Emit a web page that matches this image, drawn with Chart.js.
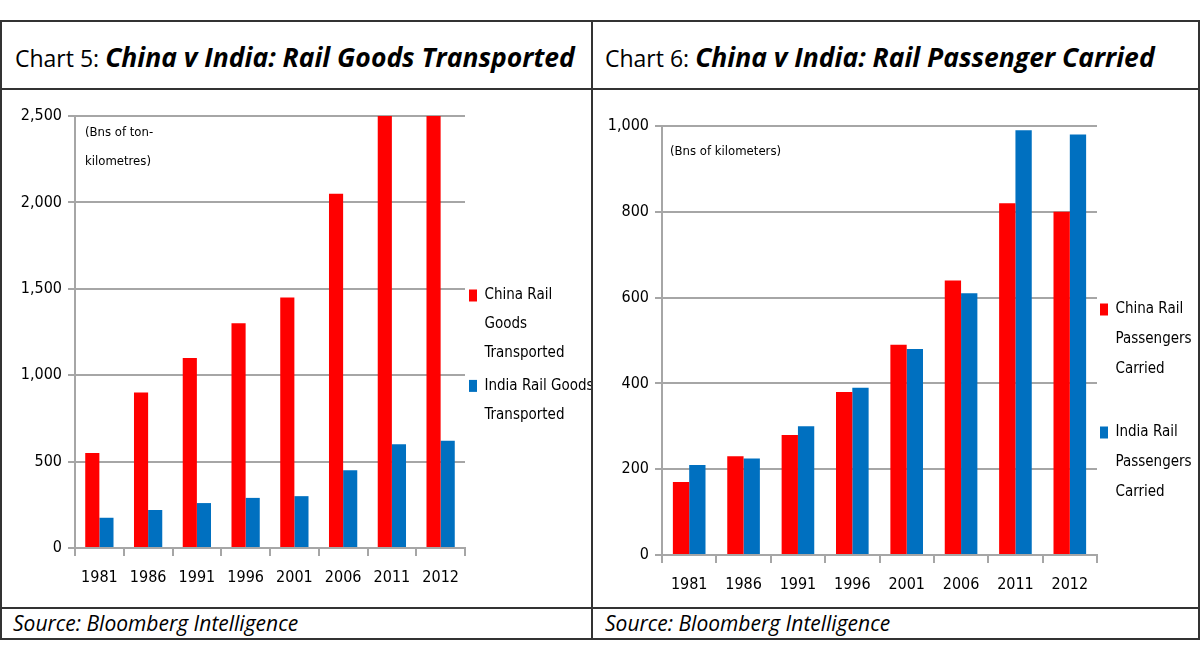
<!DOCTYPE html>
<html lang="en">
<head>
    <meta charset="UTF-8">
    <script src="https://cdn.jsdelivr.net/npm/chart.js"></script>
    <title>China v India Rail</title>
    <style>
        body {
            margin: 0;
            background: #fff;
            width: 1200px;
            height: 656px;
            position: relative;
            overflow: hidden;
        }

        .frame {
            position: absolute;
            left: 0;
            top: 20px;
            width: 1196px;
            height: 616px;
            border: 2px solid #333;
        }

        .hline, .vline {
            position: absolute;
            background: #333;
        }

        .title {
            position: absolute;
            top: 44px;
            line-height: 1;
            font-family: "Open Sans", Lato, sans-serif;
            font-size: 23px;
            color: #000;
            white-space: nowrap;
        }

        .title b {
            font-style: italic;
            font-size: 26.5px;
        }

        .source {
            position: absolute;
            top: 613px;
            line-height: 1;
            font-family: "Open Sans", Lato, sans-serif;
            font-style: italic;
            font-size: 21px;
            color: #000;
            white-space: nowrap;
        }

        .panel {
            position: absolute;
            top: 90px;
            height: 518px;
        }
    </style>
</head>
<body>

    <div class="frame"></div>
    <div class="hline" style="left:0;top:88px;width:1200px;height:2px"></div>
    <div class="hline" style="left:0;top:607px;width:1200px;height:2px"></div>
    <div class="vline" style="left:591px;top:20px;width:2px;height:618px"></div>

    <div class="title" style="left:15px">Chart 5: <b>China v India: Rail Goods Transported</b></div>
    <div class="title" style="left:605px">Chart 6: <b>China v India: Rail Passenger Carried</b></div>

    <div class="panel" style="left:2px;width:589px"><canvas id="goodsChart"></canvas></div>
    <div class="panel" style="left:593px;width:605px"><canvas id="passChart"></canvas></div>

    <div class="source" style="left:13px">Source: Bloomberg Intelligence</div>
    <div class="source" style="left:605px">Source: Bloomberg Intelligence</div>

    <script>
        // years on the x axis (same for both charts)
        const years = ["1981", "1986", "1991", "1996", "2001", "2006", "2011", "2012"];

        // Chart 5 - goods, bns of ton-km
        const chinaGoods = [550, 900, 1100, 1300, 1450, 2050, 2500, 2500];
        const indiaGoods = [175, 220, 260, 290, 300, 450, 600, 620];
        const goodsLegend = [["China Rail", "Goods", "Transported"], ["India Rail Goods", "Transported"]];
        const goodsNote = ["(Bns of ton-", "kilometres)"];

        // Chart 6 - passengers, bns of km
        const chinaPass = [170, 230, 280, 380, 490, 640, 820, 800];
        const indiaPass = [210, 225, 300, 390, 480, 610, 990, 980];
        const passLegend = [["China Rail", "Passengers", "Carried"], ["India Rail", "Passengers", "Carried"]];
        const passNote = ["(Bns of kilometers)"];

        const RED = "#ff0000";
        const BLUE = "#0070c0";
        const GRID = "#a6a6a6";
        const FONT = "'DejaVu Sans Condensed', 'Liberation Sans', sans-serif";

        // little plugin to write the unit note inside the plot
        const notePlugin = {
            id: "note",
            afterDraw(chart, args, opts) {
                const ctx = chart.ctx;
                const area = chart.chartArea;
                ctx.save();
                ctx.font = "13px " + FONT;
                ctx.fillStyle = "#000";
                ctx.textBaseline = "middle";
                opts.lines.forEach((line, i) => {
                    ctx.fillText(line, area.left + opts.dx, area.top + opts.dy + i * 29);
                });
                ctx.restore();
            }
        };

        function makeChart(id, china, india, legendText, note, cfg) {
            const ctx = document.getElementById(id).getContext("2d");
            return new Chart(ctx, {
                type: "bar",
                data: {
                    labels: years,
                    datasets: [
                        { label: legendText[0].join(" "), data: china, backgroundColor: RED, categoryPercentage: cfg.cat, barPercentage: 1.0 },
                        { label: legendText[1].join(" "), data: india, backgroundColor: BLUE, categoryPercentage: cfg.cat, barPercentage: 1.0 }
                    ]
                },
                options: {
                    responsive: true,
                    maintainAspectRatio: false,
                    animation: false,
                    layout: { padding: { top: cfg.top, right: 0, left: 0, bottom: 0 } },
                    scales: {
                        x: {
                            grid: { display: true, drawOnChartArea: false, drawTicks: true, tickLength: 8, color: GRID, lineWidth: 2, offset: true },
                            border: { color: GRID, width: 2 },
                            ticks: { color: "#000", font: { family: FONT, size: 16 }, padding: 12, maxRotation: 0 },
                            afterFit(scale) { scale.height = cfg.xh; }
                        },
                        y: {
                            min: 0,
                            max: cfg.max,
                            grid: { color: GRID, lineWidth: 2, tickLength: 7 },
                            border: { color: GRID, width: 2 },
                            ticks: { stepSize: cfg.step, color: "#000", font: { family: FONT, size: 16 }, padding: 6 },
                            afterFit(scale) { scale.width = cfg.yw; }
                        }
                    },
                    plugins: {
                        tooltip: { enabled: false },
                        note: { lines: note, dx: cfg.nx, dy: cfg.ny },
                        legend: {
                            position: "right",
                            align: cfg.lalign,
                            maxWidth: cfg.lw,
                            labels: {
                                boxWidth: 8,
                                boxHeight: 12,
                                padding: cfg.lpad,
                                color: "#000",
                                font: { family: FONT, size: 15, lineHeight: cfg.lh },
                                generateLabels(chart) {
                                    return chart.data.datasets.map((ds, i) => ({
                                        // blank lines only add spacing below an entry
                                        text: legendText[i].concat(new Array(cfg.blank[i]).fill("")),
                                        fillStyle: ds.backgroundColor,
                                        strokeStyle: ds.backgroundColor,
                                        lineWidth: 0,
                                        hidden: false,
                                        datasetIndex: i
                                    }));
                                }
                            }
                        }
                    }
                },
                plugins: [notePlugin]
            });
        }

        makeChart("goodsChart", chinaGoods, indiaGoods, goodsLegend, goodsNote,
            { cat: 0.58, max: 2500, step: 500, top: 26, xh: 60, yw: 73, nx: 10, ny: 17,
              lpad: 4, lw: 126, lh: 1.92, lalign: "center", blank: [0, 0] });
        makeChart("passChart", chinaPass, indiaPass, passLegend, passNote,
            { cat: 0.6, max: 1000, step: 200, top: 36, xh: 53, yw: 69, nx: 8, ny: 26,
              lpad: 3, lw: 101, lh: 2.0, lalign: "end", blank: [1, 3] });
    </script>

</body>
</html>
